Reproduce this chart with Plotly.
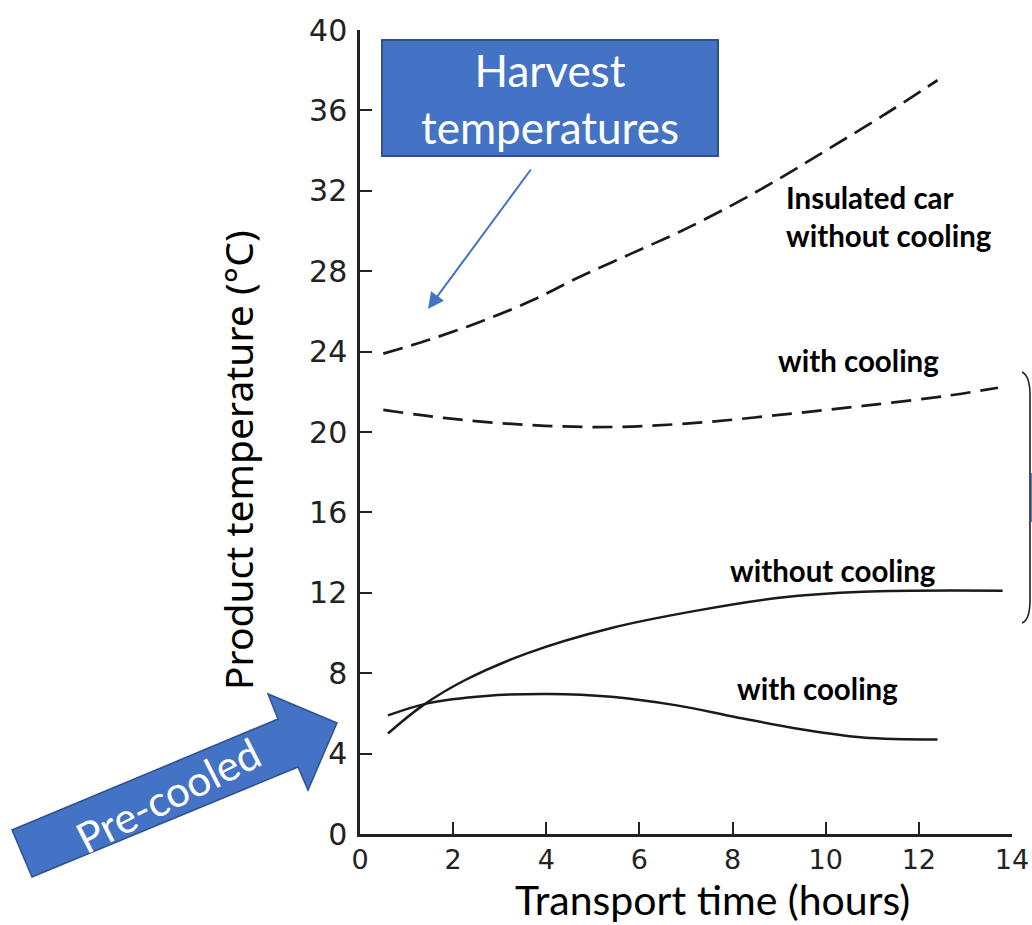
import plotly.graph_objects as go

# ---- data ----
insulated_x = [0.5, 1.5, 2.6, 3.7, 4.7, 5.8, 6.9, 8.0, 9.0, 10.0, 11.2, 12.4]
insulated_y = [23.9, 24.6, 25.5, 26.55, 27.7, 28.85, 30.0, 31.3, 32.6, 34.0, 35.7, 37.5]

insul_cool_x = [0.5, 1.8, 3.6, 5.4, 7.2, 9.0, 10.8, 12.6, 13.7]
insul_cool_y = [21.1, 20.7, 20.35, 20.25, 20.45, 20.85, 21.3, 21.8, 22.2]

pre_nocool_x = [0.6, 1.35, 2.25, 3.6, 5.4, 7.2, 9.0, 10.8, 13.8]
pre_nocool_y = [5.0, 6.4, 7.65, 9.0, 10.25, 11.1, 11.75, 12.05, 12.1]

pre_cool_x = [0.6, 1.45, 2.7, 4.05, 5.4, 6.8, 8.1, 9.5, 10.8, 12.4]
pre_cool_y = [5.9, 6.5, 6.87, 6.97, 6.83, 6.4, 5.8, 5.2, 4.8, 4.7]

x_ticks = [0, 2, 4, 6, 8, 10, 12, 14]
y_ticks = [0, 4, 8, 12, 16, 20, 24, 28, 32, 36, 40]

curve_labels = ["Insulated car<br>without cooling", "with cooling", "without cooling", "with cooling"]
curve_label_pos = [(9.1, 30.7), (10.7, 23.55), (10.15, 13.1), (9.83, 7.25)]
curve_label_anchor = ["left", "center", "center", "center"]

W, H = 1032, 925
L, R, T, B = 360, 20, 30, 91
PW, PH = W - L - R, H - T - B


def px(xp):
    return (xp - L) / PW


def py(yp):
    return (H - B - yp) / PH


INK = "#1a1a1a"
BLUE = "#4472C4"
NAVY = "#2F528F"

fig = go.Figure()
fig.add_trace(go.Scatter(x=insulated_x, y=insulated_y, mode="lines",
                         line=dict(color=INK, width=2.7, dash="20px,9px", shape="spline"),
                         showlegend=False))
fig.add_trace(go.Scatter(x=insul_cool_x, y=insul_cool_y, mode="lines",
                         line=dict(color=INK, width=2.7, dash="20px,10px", shape="spline"),
                         showlegend=False))
fig.add_trace(go.Scatter(x=pre_nocool_x, y=pre_nocool_y, mode="lines",
                         line=dict(color=INK, width=2.5, shape="spline"),
                         showlegend=False))
fig.add_trace(go.Scatter(x=pre_cool_x, y=pre_cool_y, mode="lines",
                         line=dict(color=INK, width=2.5, shape="spline"),
                         showlegend=False))

annotations = []
for txt, (ax_, ay_), anc in zip(curve_labels, curve_label_pos, curve_label_anchor):
    annotations.append(dict(x=ax_, y=ay_, xref="x", yref="y", text=txt, showarrow=False,
                            xanchor=anc, align="left",
                            font=dict(family="Lato", size=29.5, color="#000000", weight="bold")))

# Harvest box text
annotations.append(dict(x=px(550), y=py(99), xref="paper", yref="paper",
                        text="Harvest<br>temperatures", showarrow=False,
                        font=dict(family="Lato", size=44, color="white"),
                        align="center", xanchor="center", yanchor="middle"))
# Harvest arrow
annotations.append(dict(x=px(428), y=py(309), xref="paper", yref="paper",
                        ax=532 - 428, ay=168 - 309, axref="pixel", ayref="pixel",
                        text="", showarrow=True, arrowhead=2, arrowsize=1.6,
                        arrowwidth=2, arrowcolor=BLUE))
# Pre-cooled text
annotations.append(dict(x=px(168), y=py(795), xref="paper", yref="paper",
                        text="Pre-cooled", showarrow=False, textangle=-27,
                        font=dict(family="Lato", size=42, color="white"),
                        xanchor="center", yanchor="middle"))
# Axis titles
annotations.append(dict(x=px(712), y=py(925), xref="paper", yref="paper",
                        text="Transport time (hours)", showarrow=False,
                        font=dict(family="Lato", size=41, color="#000000"),
                        xanchor="center", yanchor="bottom", borderpad=0))
annotations.append(dict(x=px(238), y=py(460), xref="paper", yref="paper",
                        text="Product temperature (°C)", showarrow=False, textangle=-90,
                        font=dict(family="Noto Sans", size=39, color="#000000"),
                        xanchor="center", yanchor="middle"))

shapes = []
# Harvest box
shapes.append(dict(type="rect", xref="paper", yref="paper",
                   x0=px(382), x1=px(718), y0=py(156), y1=py(40),
                   fillcolor=BLUE, line=dict(color=NAVY, width=2), layer="above"))
# Pre-cooled block arrow
pts = [(32, 877), (12, 830), (278, 719), (268, 694), (337, 723), (308, 790), (298, 767)]
path = "M " + " L ".join(f"{px(a):.5f},{py(b):.5f}" for a, b in pts) + " Z"
shapes.append(dict(type="path", xref="paper", yref="paper", path=path,
                   fillcolor=BLUE, line=dict(color=NAVY, width=1.5), layer="above"))
# Right bracket
bp = (f"M {px(1022):.5f},{py(372):.5f} Q {px(1030):.5f},{py(376):.5f} {px(1030):.5f},{py(395):.5f} "
      f"L {px(1030):.5f},{py(600):.5f} Q {px(1030):.5f},{py(620):.5f} {px(1022):.5f},{py(623):.5f}")
shapes.append(dict(type="path", xref="paper", yref="paper", path=bp,
                   line=dict(color="#222222", width=1.6)))
shapes.append(dict(type="line", xref="paper", yref="paper",
                   x0=px(1031), x1=px(1031), y0=py(473), y1=py(522),
                   line=dict(color=NAVY, width=1.5)))

fig.update_layout(
    width=W, height=H,
    margin=dict(l=L, r=R, t=T, b=B, autoexpand=False),
    paper_bgcolor="white", plot_bgcolor="white",
    showlegend=False,
    annotations=annotations,
    shapes=shapes,
    font=dict(family="DejaVu Sans", color="#222222"),
)
fig.update_xaxes(range=[0, 14], tickvals=x_ticks, ticktext=[str(v) for v in x_ticks],
                 automargin=False,
                 showgrid=False, zeroline=False, showline=True, linecolor="#222222", linewidth=2.5,
                 ticks="inside", ticklen=12, tickwidth=2, tickcolor="#222222",
                 tickfont=dict(family="DejaVu Sans", size=27, color="#222222"))
fig.update_yaxes(range=[0, 40], tickvals=y_ticks, ticktext=[str(v) for v in y_ticks],
                 automargin=False, ticklabelstandoff=4,
                 showgrid=False, zeroline=False, showline=True, linecolor="#222222", linewidth=2.5,
                 ticks="inside", ticklen=12, tickwidth=2, tickcolor="#222222",
                 tickfont=dict(family="DejaVu Sans", size=30, color="#222222"))

fig.write_html("out.html", config={"displayModeBar": False},
               post_script="document.body.style.margin='0';document.body.style.overflow='hidden';")
